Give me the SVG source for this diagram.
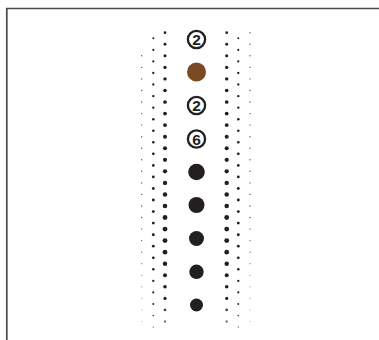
<svg xmlns="http://www.w3.org/2000/svg" width="379" height="340" viewBox="0 0 379 340">
<style>
.f{fill:none;stroke:#4a4a4a;stroke-width:1.7}
.a{fill:#231f20}
.b{fill:#231f20}
.c{fill:#555}
.ring{fill:#fff;stroke:#231f20;stroke-width:2.3}
.num{font-family:"Liberation Sans",Arial,sans-serif;font-weight:bold;font-size:15.5px;fill:#231f20;text-anchor:middle}
</style>
<rect width="379" height="340" fill="#fff"/>
<path class="f" d="M379 8.5H6.8V340"/>
<g id="halftone">
<g id="col3" class="a">
<circle cx="165" cy="32.7" r="1.35"/><circle cx="165" cy="44.3" r="1.45"/><circle cx="165" cy="55.8" r="1.55"/><circle cx="165" cy="67.4" r="1.65"/><circle cx="165" cy="78.9" r="1.7"/><circle cx="165" cy="90.5" r="1.8"/><circle cx="165" cy="102" r="1.85"/><circle cx="165" cy="113.6" r="1.9"/><circle cx="165" cy="125.1" r="1.95"/><circle cx="165" cy="136.7" r="2"/><circle cx="165" cy="148.2" r="2.05"/><circle cx="165" cy="159.8" r="2.1"/><circle cx="165" cy="171.3" r="2.15"/><circle cx="165" cy="182.9" r="2.2"/><circle cx="165" cy="194.4" r="2.25"/><circle cx="165" cy="206" r="2.3"/><circle cx="165" cy="217.5" r="2.4"/><circle cx="165" cy="229.1" r="2.45"/><circle cx="165" cy="240.6" r="2.45"/><circle cx="165" cy="252.2" r="2.35"/><circle cx="165" cy="263.7" r="2.2"/><circle cx="165" cy="275.3" r="2"/><circle cx="165" cy="286.8" r="1.8"/><circle cx="165" cy="298.4" r="1.6"/><circle cx="165" cy="309.9" r="1.4" opacity="0.8"/><circle cx="165" cy="321.5" r="1.2" opacity="0.6"/>
</g>
<g id="col4" class="a">
<circle cx="226.7" cy="32.7" r="1.35"/><circle cx="226.7" cy="44.3" r="1.45"/><circle cx="226.7" cy="55.8" r="1.55"/><circle cx="226.7" cy="67.4" r="1.65"/><circle cx="226.7" cy="78.9" r="1.7"/><circle cx="226.7" cy="90.5" r="1.8"/><circle cx="226.7" cy="102" r="1.85"/><circle cx="226.7" cy="113.6" r="1.9"/><circle cx="226.7" cy="125.1" r="1.95"/><circle cx="226.7" cy="136.7" r="2"/><circle cx="226.7" cy="148.2" r="2.05"/><circle cx="226.7" cy="159.8" r="2.1"/><circle cx="226.7" cy="171.3" r="2.15"/><circle cx="226.7" cy="182.9" r="2.2"/><circle cx="226.7" cy="194.4" r="2.25"/><circle cx="226.7" cy="206" r="2.3"/><circle cx="226.7" cy="217.5" r="2.4"/><circle cx="226.7" cy="229.1" r="2.45"/><circle cx="226.7" cy="240.6" r="2.45"/><circle cx="226.7" cy="252.2" r="2.35"/><circle cx="226.7" cy="263.7" r="2.2"/><circle cx="226.7" cy="275.3" r="2"/><circle cx="226.7" cy="286.8" r="1.8"/><circle cx="226.7" cy="298.4" r="1.6"/><circle cx="226.7" cy="309.9" r="1.4" opacity="0.8"/><circle cx="226.7" cy="321.5" r="1.2" opacity="0.6"/>
</g>
<g id="col2" class="b">
<circle cx="153.3" cy="38.3" r="1"/><circle cx="153.3" cy="49.9" r="1.05"/><circle cx="153.3" cy="61.4" r="1.1"/><circle cx="153.3" cy="73" r="1.15"/><circle cx="153.3" cy="84.5" r="1.15"/><circle cx="153.3" cy="96.1" r="1.2"/><circle cx="153.3" cy="107.6" r="1.2"/><circle cx="153.3" cy="119.2" r="1.25"/><circle cx="153.3" cy="130.7" r="1.25"/><circle cx="153.3" cy="142.3" r="1.3"/><circle cx="153.3" cy="153.8" r="1.35"/><circle cx="153.3" cy="165.4" r="1.35"/><circle cx="153.3" cy="176.9" r="1.4"/><circle cx="153.3" cy="188.5" r="1.4"/><circle cx="153.3" cy="200" r="1.45"/><circle cx="153.3" cy="211.6" r="1.45"/><circle cx="153.3" cy="223.1" r="1.45"/><circle cx="153.3" cy="234.7" r="1.45"/><circle cx="153.3" cy="246.2" r="1.4"/><circle cx="153.3" cy="257.8" r="1.35"/><circle cx="153.3" cy="269.3" r="1.25"/><circle cx="153.3" cy="280.9" r="1.15"/><circle cx="153.3" cy="292.4" r="1.05"/><circle cx="153.3" cy="304" r="0.95"/><circle cx="153.3" cy="315.5" r="0.85" opacity="0.8"/><circle cx="153.3" cy="327.1" r="0.75" opacity="0.6"/>
</g>
<g id="col5" class="b">
<circle cx="238.3" cy="38.3" r="1"/><circle cx="238.3" cy="49.9" r="1.05"/><circle cx="238.3" cy="61.4" r="1.1"/><circle cx="238.3" cy="73" r="1.15"/><circle cx="238.3" cy="84.5" r="1.15"/><circle cx="238.3" cy="96.1" r="1.2"/><circle cx="238.3" cy="107.6" r="1.2"/><circle cx="238.3" cy="119.2" r="1.25"/><circle cx="238.3" cy="130.7" r="1.25"/><circle cx="238.3" cy="142.3" r="1.3"/><circle cx="238.3" cy="153.8" r="1.35"/><circle cx="238.3" cy="165.4" r="1.35"/><circle cx="238.3" cy="176.9" r="1.4"/><circle cx="238.3" cy="188.5" r="1.4"/><circle cx="238.3" cy="200" r="1.45"/><circle cx="238.3" cy="211.6" r="1.45"/><circle cx="238.3" cy="223.1" r="1.45"/><circle cx="238.3" cy="234.7" r="1.45"/><circle cx="238.3" cy="246.2" r="1.4"/><circle cx="238.3" cy="257.8" r="1.35"/><circle cx="238.3" cy="269.3" r="1.25"/><circle cx="238.3" cy="280.9" r="1.15"/><circle cx="238.3" cy="292.4" r="1.05"/><circle cx="238.3" cy="304" r="0.95"/><circle cx="238.3" cy="315.5" r="0.85" opacity="0.8"/><circle cx="238.3" cy="327.1" r="0.75" opacity="0.6"/>
</g>
<g id="col1" class="c">
<circle cx="141.7" cy="55.8" r="0.7"/><circle cx="141.7" cy="67.4" r="0.7"/><circle cx="141.7" cy="78.9" r="0.7"/><circle cx="141.7" cy="90.5" r="0.7"/><circle cx="141.7" cy="102" r="0.7"/><circle cx="141.7" cy="113.6" r="0.7"/><circle cx="141.7" cy="125.1" r="0.7"/><circle cx="141.7" cy="136.7" r="0.7"/><circle cx="141.7" cy="148.2" r="0.7"/><circle cx="141.7" cy="159.8" r="0.7"/><circle cx="141.7" cy="171.3" r="0.7"/><circle cx="141.7" cy="182.9" r="0.7"/><circle cx="141.7" cy="194.4" r="0.7"/><circle cx="141.7" cy="206" r="0.7"/><circle cx="141.7" cy="217.5" r="0.7"/><circle cx="141.7" cy="229.1" r="0.7"/><circle cx="141.7" cy="240.6" r="0.65"/><circle cx="141.7" cy="252.2" r="0.65" opacity="0.9"/><circle cx="141.7" cy="263.7" r="0.65" opacity="0.8"/><circle cx="141.7" cy="275.3" r="0.65" opacity="0.7"/><circle cx="141.7" cy="286.8" r="0.65" opacity="0.6"/><circle cx="141.7" cy="298.4" r="0.65" opacity="0.5"/><circle cx="141.7" cy="309.9" r="0.65" opacity="0.4"/><circle cx="141.7" cy="321.5" r="0.65" opacity="0.3"/>
</g>
<g id="col6" class="c">
<circle cx="250" cy="32.7" r="0.7"/><circle cx="250" cy="44.3" r="0.7"/><circle cx="250" cy="55.8" r="0.7"/><circle cx="250" cy="67.4" r="0.7"/><circle cx="250" cy="78.9" r="0.7"/><circle cx="250" cy="90.5" r="0.7"/><circle cx="250" cy="102" r="0.7"/><circle cx="250" cy="113.6" r="0.7"/><circle cx="250" cy="125.1" r="0.7"/><circle cx="250" cy="136.7" r="0.7"/><circle cx="250" cy="148.2" r="0.7"/><circle cx="250" cy="159.8" r="0.7"/><circle cx="250" cy="171.3" r="0.7"/><circle cx="250" cy="182.9" r="0.7"/><circle cx="250" cy="194.4" r="0.7"/><circle cx="250" cy="206" r="0.7"/><circle cx="250" cy="217.5" r="0.7"/><circle cx="250" cy="229.1" r="0.7"/><circle cx="250" cy="240.6" r="0.65"/><circle cx="250" cy="252.2" r="0.65" opacity="0.9"/><circle cx="250" cy="263.7" r="0.65" opacity="0.8"/><circle cx="250" cy="275.3" r="0.65" opacity="0.7"/><circle cx="250" cy="286.8" r="0.65" opacity="0.6"/><circle cx="250" cy="298.4" r="0.65" opacity="0.5"/><circle cx="250" cy="309.9" r="0.65" opacity="0.4"/><circle cx="250" cy="321.5" r="0.65" opacity="0.3"/>
</g>
</g>
<g id="n1"><circle class="ring" cx="196.5" cy="39.5" r="8.6"/><text class="num" x="196.5" y="45">2</text></g>
<g id="n2"><circle cx="196.5" cy="72" r="9.5" fill="#7a4b22"/></g>
<g id="n3"><circle class="ring" cx="196.5" cy="105.5" r="8.6"/><text class="num" x="196.5" y="111">2</text></g>
<g id="n4"><circle class="ring" cx="196.5" cy="139" r="8.6"/><text class="num" x="196.5" y="144.5">6</text></g>
<g id="n5"><circle cx="196.5" cy="172" r="8.3" fill="#231f20"/></g>
<g id="n6"><circle cx="196.5" cy="205" r="8" fill="#231f20"/></g>
<g id="n7"><circle cx="196.5" cy="238.5" r="7.5" fill="#231f20"/></g>
<g id="n8"><circle cx="196.5" cy="271.8" r="7.2" fill="#231f20"/></g>
<g id="n9"><circle cx="196.5" cy="305" r="6.5" fill="#231f20"/></g>
</svg>
